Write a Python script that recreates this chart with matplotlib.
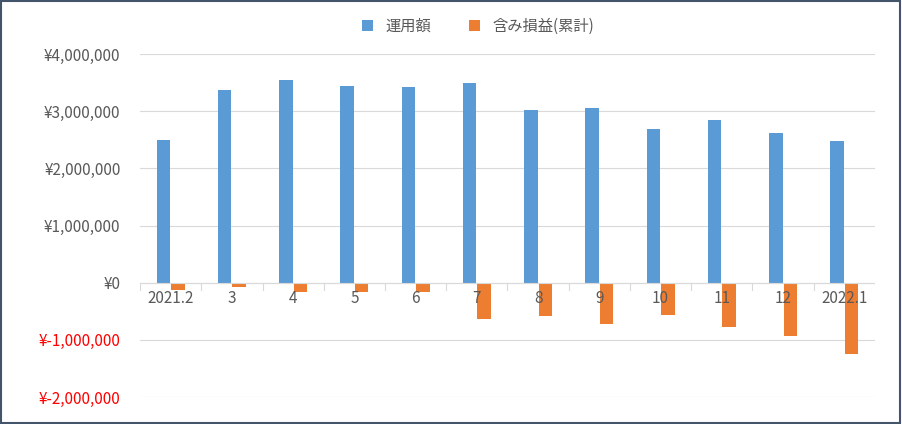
import matplotlib
matplotlib.use("Agg")
import matplotlib.pyplot as plt
import numpy as np
from matplotlib.ticker import FuncFormatter

plt.rcParams['font.family'] = ['Noto Sans CJK JP', 'DejaVu Sans']

categories = ["2021.2", "3", "4", "5", "6", "7", "8", "9", "10", "11", "12", "2022.1"]
amount = [2500000, 3370000, 3550000, 3440000, 3420000, 3490000, 3020000, 3060000, 2690000, 2850000, 2620000, 2480000]
pl = [-120000, -70000, -160000, -170000, -160000, -630000, -590000, -720000, -560000, -770000, -930000, -1240000]

fig = plt.figure(figsize=(9.02, 4.24), dpi=100)
ax = fig.add_axes([140/902, 1-397/424, 735/902, (397-54)/424])
x = np.arange(len(categories))
w = 0.22
ax.bar(x - w/2 - 0.01, amount, w, color="#5B9BD5", label="運用額")
ax.bar(x + w/2 + 0.01, pl, w, color="#ED7D31", label="含み損益(累計)")
ax.set_xlim(-0.5, len(categories) - 0.5)
ax.set_ylim(-2000000, 4000000)
ax.set_yticks(np.arange(-2000000, 4000001, 1000000))
ax.yaxis.set_major_formatter(FuncFormatter(lambda v, p: ("¥-{:,.0f}".format(-v) if v < 0 else "¥{:,.0f}".format(v))))
ax.grid(axis="y", color="#D9D9D9", lw=0.8)
ax.set_axisbelow(True)
for s in ax.spines.values():
    s.set_visible(False)
ax.tick_params(axis="y", length=0, labelsize=11, colors="#595959", pad=14)
for lbl, v in zip(ax.get_yticklabels(), ax.get_yticks()):
    if v < 0:
        lbl.set_color("red")
ax.axhline(0, color="#D9D9D9", lw=0.8)
ax.set_xticks([])
for i, c in enumerate(categories):
    ax.text(i, -130000, c, ha="center", va="top", fontsize=11, color="#595959")
for i in range(len(categories) + 1):
    ax.plot([i - 0.5, i - 0.5], [0, -130000], color="#D9D9D9", lw=0.8)
fig.legend(loc="upper center", bbox_to_anchor=(0.53, 0.99), ncol=2, frameon=False,
           fontsize=11, handlelength=0.7, handleheight=0.7, columnspacing=2.5, labelcolor="#595959")
fig.patches.append(plt.Rectangle((0.001, 0.002), 0.997, 0.995, transform=fig.transFigure,
                                 fill=False, edgecolor="#44546A", lw=1.5))
fig.savefig("out.png", dpi=100)
